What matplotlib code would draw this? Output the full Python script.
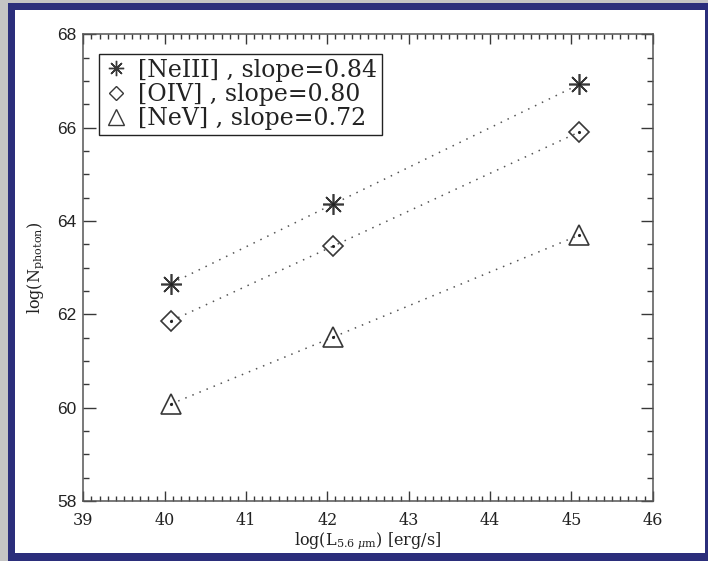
import matplotlib
matplotlib.use("Agg")
import matplotlib.pyplot as plt
from matplotlib.patches import Rectangle
from matplotlib.lines import Line2D
from matplotlib.ticker import MultipleLocator

# ---- data ----
lum = [40.08, 42.07, 45.10]
neIII = [62.66, 64.36, 66.93]
oIV = [61.86, 63.46, 65.91]
neV = [60.08, 61.51, 63.70]
labels = ["[NeIII] , slope=0.84", "[OIV] , slope=0.80", "[NeV] , slope=0.72"]
x_ticks = [39, 40, 41, 42, 43, 44, 45, 46]
y_ticks = [58, 60, 62, 64, 66, 68]

plt.rcParams['mathtext.fontset'] = 'dejavuserif'

W, H = 708, 561
fig = plt.figure(figsize=(W / 100, H / 100), dpi=100)
fig.patch.set_facecolor('#c4c4c4')
# blue frame
fig.patches.append(Rectangle((8 / W, 0), 700 / W, 558 / H, transform=fig.transFigure,
                             facecolor='#2b2e7b', edgecolor='none', zorder=-10))
fig.patches.append(Rectangle((15 / W, 8 / H), 690 / W, 543 / H, transform=fig.transFigure,
                             facecolor='white', edgecolor='none', zorder=-9))

ax = fig.add_axes([83.3 / W, 1 - 501 / H, 569.4 / W, 466.7 / H])
ax.set_facecolor('white')

ink = '#383838'
series = [(neIII, (8, 2, 0), 15), (oIV, 'D', 10.5), (neV, '^', 15)]
for vals, mk, ms in series:
    ax.plot(lum, vals, linestyle=(0, (1, 4)), color='#555555', linewidth=1.1, zorder=2)
    ax.plot(lum, vals, linestyle='none', marker=mk, markersize=ms, markerfacecolor='none',
            markeredgecolor=ink, markeredgewidth=1.2, zorder=3)
    ax.plot(lum, vals, linestyle='none', marker='.', markersize=2.5, color='#222222', zorder=4)

ax.set_xlim(39, 46)
ax.set_ylim(58, 68)
ax.set_xticks(x_ticks)
ax.set_yticks(y_ticks)
ax.xaxis.set_minor_locator(MultipleLocator(0.1))
ax.yaxis.set_minor_locator(MultipleLocator(0.5))
ax.tick_params(which='both', direction='in', top=True, right=True, color=ink, width=1)
ax.tick_params(axis='x', which='major', length=7.5, pad=8)
ax.tick_params(axis='x', which='minor', length=3.8)
ax.tick_params(axis='y', which='major', length=9, pad=5)
ax.tick_params(axis='y', which='minor', length=4.5)
for s in ax.spines.values():
    s.set_color('#555555')
    s.set_linewidth(1.1)

for lab in ax.get_xticklabels():
    lab.set_fontfamily('DejaVu Serif')
    lab.set_fontsize(11.5)
    lab.set_color('#222222')
for lab in ax.get_yticklabels():
    lab.set_fontfamily('Liberation Sans')
    lab.set_fontsize(12.5)
    lab.set_color('#222222')

ax.set_xlabel(r'log(L$_{5.6\ \mu\mathrm{m}}$) [erg/s]', fontfamily='DejaVu Serif',
              fontsize=11.5, color='#222222', labelpad=1)
ax.set_ylabel(r'log(N$_{\mathrm{photon}}$)', fontfamily='DejaVu Serif',
              fontsize=11.5, color='#222222', labelpad=8)

handles = [
    Line2D([], [], linestyle='none', marker=(8, 2, 0), markersize=11, markerfacecolor='none',
           markeredgecolor=ink, markeredgewidth=1.0),
    Line2D([], [], linestyle='none', marker='D', markersize=7.5, markerfacecolor='none',
           markeredgecolor=ink, markeredgewidth=1.0),
    Line2D([], [], linestyle='none', marker='^', markersize=11, markerfacecolor='none',
           markeredgecolor=ink, markeredgewidth=1.0),
]
leg = ax.legend(handles, labels, loc='upper left',
                bbox_to_anchor=((99 - 83.3) / 569.4, (501 - 54) / 466.7),
                borderaxespad=0, fancybox=False, framealpha=1, edgecolor='#222222',
                handlelength=1.0, handletextpad=0.45, labelspacing=0.05, borderpad=0.2,
                prop={'family': 'DejaVu Serif', 'size': 17})
leg.get_frame().set_linewidth(1.0)
for t in leg.get_texts():
    t.set_color('#222222')

fig.savefig('out.png', dpi=100, facecolor=fig.get_facecolor())
